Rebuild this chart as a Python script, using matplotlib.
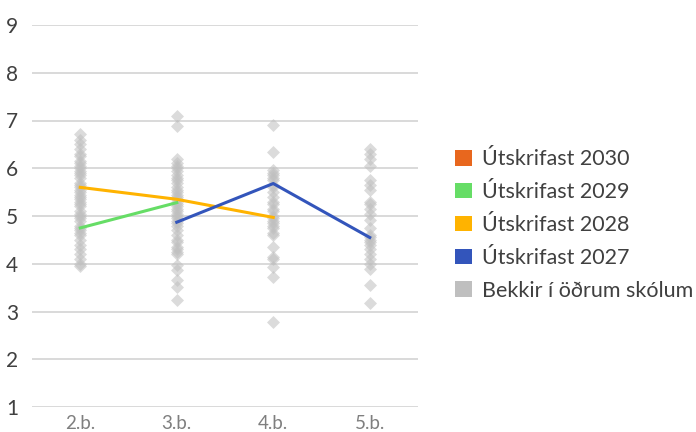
import matplotlib
matplotlib.use("Agg")
import matplotlib.pyplot as plt
from matplotlib.patches import Patch

plt.rcParams['font.family'] = ['Lato', 'DejaVu Sans']

categories = ["2.b.", "3.b.", "4.b.", "5.b."]

# other schools' classes (scatter)
others_2b = [6.72, 6.6, 6.5, 6.4, 6.3, 6.25, 6.15, 6.1, 6.05, 6.0, 5.95, 5.9, 5.85, 5.8, 5.7,
             5.65, 5.6, 5.55, 5.5, 5.45, 5.4, 5.35, 5.3, 5.25, 5.2, 5.1, 5.05, 5.0, 4.95, 4.9,
             4.8, 4.75, 4.7, 4.65, 4.6, 4.5, 4.4, 4.3, 4.2, 4.1, 4.0, 3.95]
others_3b = [7.1, 6.88, 6.2, 6.1, 6.05, 6.0, 5.95, 5.85, 5.8, 5.75, 5.7, 5.6, 5.55, 5.5, 5.45,
             5.4, 5.35, 5.3, 5.25, 5.2, 5.15, 5.1, 5.05, 5.0, 4.95, 4.9, 4.85, 4.8, 4.7, 4.6,
             4.5, 4.45, 4.35, 4.3, 4.25, 4.2, 3.97, 3.87, 3.66, 3.52, 3.24]
others_4b = [6.9, 6.35, 5.97, 5.9, 5.85, 5.8, 5.75, 5.65, 5.6, 5.5, 5.4, 5.3, 5.25, 5.15, 5.1,
             5.0, 4.95, 4.9, 4.85, 4.8, 4.75, 4.65, 4.6, 4.35, 4.15, 4.1, 3.93, 3.72, 2.78]
others_5b = [6.4, 6.3, 6.2, 6.05, 5.75, 5.65, 5.55, 5.3, 5.25, 5.15, 5.05, 4.92, 4.75, 4.6,
             4.55, 4.5, 4.45, 4.4, 4.3, 4.2, 4.1, 4.0, 3.9, 3.55, 3.18]
others = [others_2b, others_3b, others_4b, others_5b]

# cohort lines (None = no data)
s2030 = [None, None, None, None]
s2029 = [4.75, 5.28, None, None]
s2028 = [5.6, 5.35, 4.97, None]
s2027 = [None, 4.87, 5.68, 4.55]

series = [("Útskrifast 2030", s2030, "#E8671E"),
          ("Útskrifast 2029", s2029, "#66DD66"),
          ("Útskrifast 2028", s2028, "#FFB300"),
          ("Útskrifast 2027", s2027, "#3355BB")]
others_label = "Bekkir í öðrum skólum"
others_color = "#BFBFBF"

fig = plt.figure(figsize=(6.96, 4.32), dpi=100)
ax = fig.add_axes([32/696, 25/432, 386/696, 382/432])

for i, vals in enumerate(others):
    ax.scatter([i]*len(vals), vals, marker='D', s=44, color=others_color,
               alpha=0.55, linewidths=0, zorder=2)

for name, vals, col in series:
    xs = [i for i, v in enumerate(vals) if v is not None]
    ys = [v for v in vals if v is not None]
    if xs:
        ax.plot(xs, ys, color=col, lw=2.2, zorder=3)

ax.set_xlim(-0.5, 3.5)
ax.set_ylim(1, 9)
ax.set_yticks(range(1, 10))
ax.set_xticks(range(4))
ax.set_xticklabels(categories)
ax.grid(axis='y', color='#D9D9D9', lw=1.4, zorder=0)
ax.set_axisbelow(True)
for s in ax.spines.values():
    s.set_visible(False)
ax.tick_params(axis='y', length=0, pad=10, labelsize=15, labelcolor='#404040')
ax.tick_params(axis='x', length=0, pad=6, labelsize=13.5, labelcolor='#7F7F7F')

handles = [Patch(facecolor=c, edgecolor='none') for _, _, c in series]
handles.append(Patch(facecolor=others_color, edgecolor='none'))
labels = [n for n, _, _ in series] + [others_label]
fig.legend(handles, labels, loc='center left', bbox_to_anchor=(436/696, 1 - 225/432),
           frameon=False, fontsize=15.5, handlelength=0.75, handleheight=0.75,
           handletextpad=0.5, labelspacing=0.6, labelcolor='#404040')

fig.savefig("out.png", dpi=100)
